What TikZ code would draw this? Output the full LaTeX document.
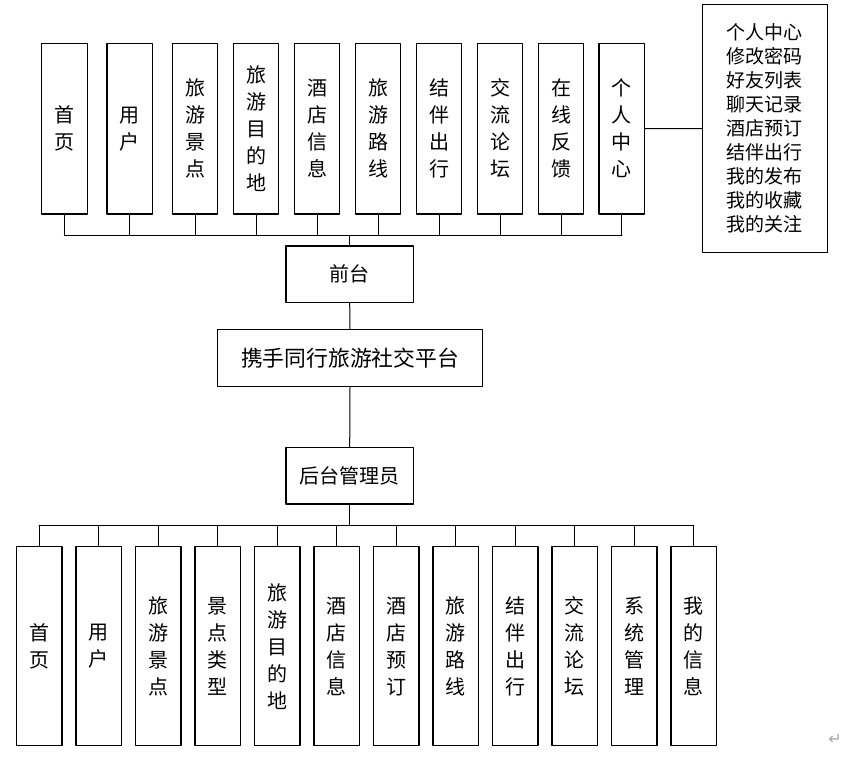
\documentclass[tikz,border=0pt]{standalone}
\usepackage{fontspec}
\newfontfamily\cjk{Noto Sans CJK SC}
\newfontfamily\symfont{DejaVu Sans}

\begin{document}
\begin{tikzpicture}[line cap=round,line join=round,x=1pt,y=-1pt,
	colbox/.style={draw,line width=1.2pt,minimum width=45.5,inner sep=0pt,align=center,font=\cjk\fontsize{20}{27}\selectfont},
	topbox/.style={colbox,minimum height=170.7},
	botbox/.style={colbox,minimum height=199},
	rowbox/.style={draw,line width=1.2pt,inner sep=0pt,font=\cjk\fontsize{20}{24}\selectfont},
	bus/.style={line width=1.4pt},
	link/.style={line width=1pt}]
	\useasboundingbox (0,0) rectangle (854,756);
	%% front end
	\node[topbox] (sy) at (64.5,128.7) {首\\页};
	\node[topbox] (yh) at (129.7,128.7) {用\\户};
	\node[topbox] (lyjd) at (195,128.7) {旅\\游\\景\\点};
	\node[topbox] (lymdd) at (256,128.7) {旅\\游\\目\\的\\地};
	\node[topbox] (jdxx) at (317,128.7) {酒\\店\\信\\息};
	\node[topbox] (lylx) at (378,128.7) {旅\\游\\路\\线};
	\node[topbox] (jbcx) at (439,128.7) {结\\伴\\出\\行};
	\node[topbox] (jllt) at (500,128.7) {交\\流\\论\\坛};
	\node[topbox] (zxfk) at (561,128.7) {在\\线\\反\\馈};
	\node[topbox] (grzx) at (621.8,128.7) {个\\人\\中\\心};
	\node[draw,line width=1.2pt,minimum width=125,minimum height=247.6,inner sep=0pt,align=center,
		font=\cjk\fontsize{19}{24}\selectfont] (grzxlist) at (764.8,128.5)
		{个人中心\\修改密码\\好友列表\\聊天记录\\酒店预订\\结伴出行\\我的发布\\我的收藏\\我的关注};
	\draw[link] (grzx.east) -- (grzxlist.west);
	\node[rowbox,minimum width=127.3,minimum height=56.7] (qt) at (349.7,274.3) {前台};
	\node[rowbox,minimum width=264.6,minimum height=57.4,font=\cjk\fontsize{21.8}{24}\selectfont] (pt) at (350,358) {携手同行旅游社交平台};
	\node[rowbox,minimum width=127.3,minimum height=56.7] (ht) at (349.7,475.7) {后台管理员};
	\coordinate (tbus) at (349.7,235.7);
	\draw[bus] (sy.south |- tbus) -- (grzx.south |- tbus);
	\draw[link] (sy.south) -- (sy.south |- tbus);
	\draw[link] (yh.south) -- (yh.south |- tbus);
	\draw[link] (lyjd.south) -- (lyjd.south |- tbus);
	\draw[link] (lymdd.south) -- (lymdd.south |- tbus);
	\draw[link] (jdxx.south) -- (jdxx.south |- tbus);
	\draw[link] (lylx.south) -- (lylx.south |- tbus);
	\draw[link] (jbcx.south) -- (jbcx.south |- tbus);
	\draw[link] (jllt.south) -- (jllt.south |- tbus);
	\draw[link] (zxfk.south) -- (zxfk.south |- tbus);
	\draw[link] (grzx.south) -- (grzx.south |- tbus);
	\draw[bus] (tbus) -- (qt.north);
	\draw[link] (qt.south) -- (pt.north);
	\draw[link] (pt.south) -- (ht.north);
	%% back end
	\node[botbox] (bsy) at (39.2,646.2) {首\\页};
	\node[botbox] (byh) at (98.7,646.2) {用\\户};
	\node[botbox] (blyjd) at (158.2,646.2) {旅\\游\\景\\点};
	\node[botbox] (bjdlx) at (217.7,646.2) {景\\点\\类\\型};
	\node[botbox] (blymdd) at (277.2,646.2) {旅\\游\\目\\的\\地};
	\node[botbox] (bjdxx) at (336.7,646.2) {酒\\店\\信\\息};
	\node[botbox] (bjdyd) at (396.2,646.2) {酒\\店\\预\\订};
	\node[botbox] (blylx) at (455.7,646.2) {旅\\游\\路\\线};
	\node[botbox] (bjbcx) at (515.2,646.2) {结\\伴\\出\\行};
	\node[botbox] (bjllt) at (574.7,646.2) {交\\流\\论\\坛};
	\node[botbox] (bxtgl) at (634.2,646.2) {系\\统\\管\\理};
	\node[botbox] (bwdxx) at (693.7,646.2) {我\\的\\信\\息};
	\coordinate (bbus) at (349.7,525.7);
	\draw[bus] (ht.south) -- (bbus);
	\draw[bus] (bsy.north |- bbus) -- (bwdxx.north |- bbus);
	\draw[link] (bsy.north) -- (bsy.north |- bbus);
	\draw[link] (byh.north) -- (byh.north |- bbus);
	\draw[link] (blyjd.north) -- (blyjd.north |- bbus);
	\draw[link] (bjdlx.north) -- (bjdlx.north |- bbus);
	\draw[link] (blymdd.north) -- (blymdd.north |- bbus);
	\draw[link] (bjdxx.north) -- (bjdxx.north |- bbus);
	\draw[link] (bjdyd.north) -- (bjdyd.north |- bbus);
	\draw[link] (blylx.north) -- (blylx.north |- bbus);
	\draw[link] (bjbcx.north) -- (bjbcx.north |- bbus);
	\draw[link] (bjllt.north) -- (bjllt.north |- bbus);
	\draw[link] (bxtgl.north) -- (bxtgl.north |- bbus);
	\draw[link] (bwdxx.north) -- (bwdxx.north |- bbus);
	\node[text=gray!70,font=\symfont\fontsize{16}{16}\selectfont,inner sep=0pt] (ret) at (835,739) {↵};
\end{tikzpicture}
\end{document}
